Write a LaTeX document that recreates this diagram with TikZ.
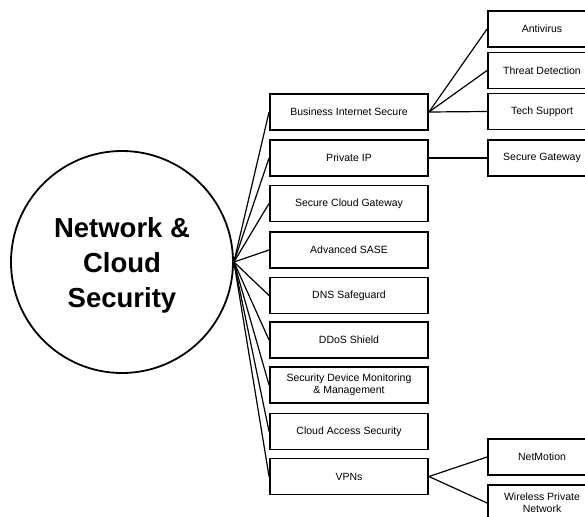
\documentclass[tikz,border=0pt]{standalone}
\usepackage{fontspec}
\setmainfont{Liberation Sans}
\begin{document}
\begin{tikzpicture}[x=1pt,y=-1pt,
  box/.style={draw=black,line width=1.9pt,minimum width=158pt,minimum height=36pt,inner sep=0pt,align=center,font=\fontsize{10.5}{12}\selectfont},
  sbox/.style={draw=black,line width=1.9pt,minimum width=108pt,minimum height=36pt,inner sep=0pt,align=center,font=\fontsize{10.5}{12}\selectfont},
  conn/.style={line width=1.2pt}]
\useasboundingbox (0,0) rectangle (585,516);
\begin{scope}
\clip (0,0) rectangle (585,516);
\node[circle,draw=black,line width=1.8pt,minimum size=222pt,inner sep=0pt] (hub) at (122,262) {};
\node[align=center,font=\fontsize{27.5}{35}\selectfont\bfseries] (title) at (122,265) {Network \&\\Cloud\\Security};
\node[box] (b1) at (349,112) {Business Internet Secure};
\node[box] (b2) at (349,158) {Private IP};
\node[box] (b3) at (349,203.5) {Secure Cloud Gateway};
\node[box] (b4) at (349,250) {Advanced SASE};
\node[box] (b5) at (349,295.5) {DNS Safeguard};
\node[box] (b6) at (349,340) {DDoS Shield};
\node[box] (b7) at (349,385) {Security Device Monitoring\\\& Management};
\node[box] (b8) at (349,431.5) {Cloud Access Security};
\node[box] (b9) at (349,476.5) {VPNs};
\node[sbox] (s1) at (542,29) {Antivirus};
\node[sbox] (s2) at (542,70.5) {Threat Detection};
\node[sbox] (s3) at (542,111.5) {Tech Support};
\node[sbox] (s4) at (542,158) {Secure Gateway};
\node[sbox] (s5) at (542,457) {NetMotion};
\node[sbox] (s6) at (542,503) {Wireless Private\\Network};
\foreach \b in {b1,b2,b3,b4,b5,b6,b7,b8,b9}
  \draw[conn] (hub.east) -- (\b.west);
\foreach \s in {s1,s2,s3}
  \draw[conn] (b1.east) -- (\s.west);
\draw[conn] (b2.east) -- (s4.west);
\draw[conn] (b9.east) -- (s5.west);
\draw[conn] (b9.east) -- (s6.west);
\end{scope}
\end{tikzpicture}
\end{document}
